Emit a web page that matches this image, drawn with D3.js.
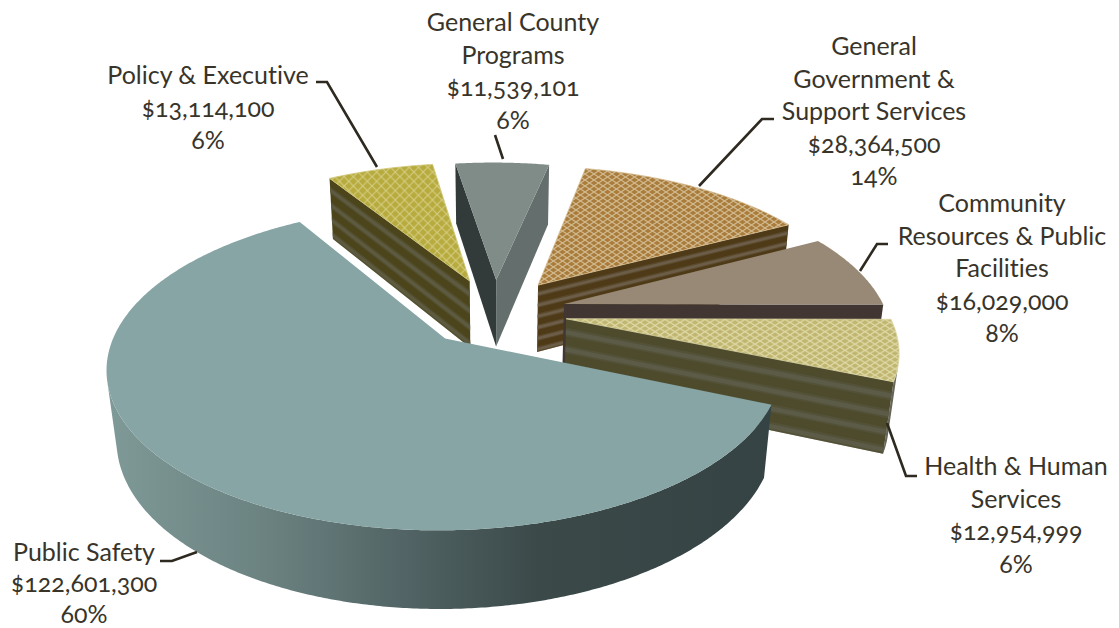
<!DOCTYPE html>
<html>
<head>
<meta charset="utf-8">
<script src="https://cdn.jsdelivr.net/npm/d3@7"></script>
<style>
  html, body { margin: 0; padding: 0; background: #fff; }
  svg { display: block; }
  text { font-family: Lato, "Open Sans", sans-serif; font-size: 25px; fill: #38342a;
         font-feature-settings: "onum" 1, "liga" 0; font-variant-numeric: oldstyle-nums; font-variant-ligatures: none; }
</style>
</head>
<body>
<svg id="chart" width="1119" height="628"></svg>
<script>
// Budget categories, clockwise from the large public safety slice.
const categories = [
  ["Public Safety"],
  ["Policy & Executive"],
  ["General County", "Programs"],
  ["General", "Government &", "Support Services"],
  ["Community", "Resources & Public", "Facilities"],
  ["Health & Human", "Services"]
];
const amounts = [122601300, 13114100, 11539101, 28364500, 16029000, 12954999];

// Where the pie begins, in degrees clockwise from twelve o'clock.
const firstSliceAngle = 113.0;

// Perspective camera for the extruded disc.
const cam = { cx: 494.5, cy: 312, A: 322, B: 148, H: 70, k: 0.174, m: 0.025, shear: 0.01 };

// How far each slice is pulled out of the pie, as a share of the radius.
const explosion = [0.23, 0.23, 0.225, 0.235, 0.225, 0.225];

// Surface styling per slice.
const looks = [
  { top: "#87a5a5", wallStart: "#323a3a", wallEnd: "#323a3a", rim: "url(#rimShade)" },
  { top: "url(#latOlive)", edge: "#cfc779", wallStart: "#4c441b", wallEnd: "#4c441b", light: "#5d5a42", bands: 4, rim: "#4c441b" },
  { top: "#7f8c88", wallStart: "#323a3a", wallEnd: "#646f6d", rim: "#646f6d" },
  { top: "url(#latBrown)", edge: "#d6bd92", wallStart: "#4f3a17", wallEnd: "#4f3a17", light: "#6b5d47", bands: 6, rim: "#4f3a17" },
  { top: "#978975", wallStart: "#413631", wallEnd: "#413631", rim: "#413631" },
  { top: "url(#latKhaki)", edge: "#dcd7a6", wallStart: "#4d4b2c", wallEnd: "#4d4b2c", light: "#5c5b47", bands: 4, rim: "#66655a" }
];

// Label blocks: centre x, first baseline, row spacing and the leader line to the slice.
const labelBlocks = [
  { x: 84,   y: 561, step: 31,   leader: [[160, 561], [172, 561], [197, 552]] },
  { x: 208,  y: 84,  step: 32.5, leader: [[316, 82], [327, 82], [377, 167]] },
  { x: 513,  y: 31,  step: 32.5, leader: [[495, 135], [503, 159]] },
  { x: 874,  y: 55,  step: 32.5, leader: [[774, 119], [762, 119], [699, 186]] },
  { x: 1002, y: 212, step: 32.5, leader: [[888, 244], [877, 244], [860, 271]] },
  { x: 1016, y: 475, step: 32.5, leader: [[887, 423], [906, 476], [917, 476]] }
];

const svg = d3.select("#chart");
const defs = svg.append("defs");

// Lattice fills used on the textured slice tops.
function lattice(id, w, h, base, line) {
  const p = defs.append("pattern").attr("id", id).attr("patternUnits", "userSpaceOnUse")
    .attr("width", w).attr("height", h);
  p.append("rect").attr("width", w).attr("height", h).attr("fill", base);
  p.append("path").attr("d", `M0,0L${w},${h}M0,${h}L${w},0`)
    .attr("stroke", line).attr("stroke-width", 1.15).attr("fill", "none");
}
lattice("latOlive", 9.3, 9.3, "#b8ab3e", "#d3cc82");
lattice("latBrown", 9, 6, "#a97c3b", "#d2b98f");
lattice("latKhaki", 10, 6.2, "#c1b670", "#e0dbaa");

// Horizontal shading along the public safety drum.
const shade = defs.append("linearGradient").attr("id", "rimShade")
  .attr("gradientUnits", "userSpaceOnUse").attr("x1", 105).attr("x2", 770).attr("y1", 0).attr("y2", 0);
[[0, "#7f9a98"], [0.25, "#6a8180"], [0.45, "#526465"], [0.65, "#3b4949"], [1, "#354344"]]
  .forEach(([o, c]) => shade.append("stop").attr("offset", o).attr("stop-color", c));

const pie = d3.pie().sort(null)
  .startAngle(firstSliceAngle * Math.PI / 180)
  .endAngle(firstSliceAngle * Math.PI / 180 + 2 * Math.PI);
const arcs = pie(amounts);
const total = d3.sum(amounts);

const line = d3.line();

function project(X, Y, z) {
  const w = 1 + cam.k * Y + cam.m * z;
  return [cam.cx + cam.A * (X - cam.shear * Y) / w, cam.cy + (-cam.B * Y + cam.H * z) / w];
}

// d3.polygonArea is positive when the wall looks towards the viewer here.
function facesViewer(a, b, c, d) {
  return d3.polygonArea([a, b, c, d]) > 0;
}

function drawSlice(d, i) {
  const look = looks[i];
  const mid = (d.startAngle + d.endAngle) / 2;
  const ox = explosion[i] * Math.sin(mid), oy = explosion[i] * Math.cos(mid);
  const at = (r, ang, z) => project(ox + r * Math.sin(ang), oy + r * Math.cos(ang), z);
  const g = svg.append("g");

  // Rim samples, one per half degree.
  const steps = d3.range(0, Math.ceil((d.endAngle - d.startAngle) * 360 / Math.PI) + 1)
    .map((s, _, all) => d.startAngle + (d.endAngle - d.startAngle) * s / (all.length - 1));

  // Flat wall along a cut edge; textured slices get soft-edged bands.
  const wall = (from, to, fill) => {
    const p = (q, z) => q === "c" ? project(ox, oy, z) : at(1, q, z);
    if (!facesViewer(p(from, 0), p(to, 0), p(to, 1), p(from, 1))) return;
    const quad = (z0, z1) => [p(from, z0), p(to, z0), p(to, z1), p(from, z1)];
    g.append("path").attr("d", line(quad(0, 1)) + "Z").attr("fill", fill);
    if (look.bands) {
      d3.range(look.bands).forEach(n => {
        g.append("path").attr("d", line(quad((n + 0.52) / look.bands, (n + 1) / look.bands)) + "Z")
          .attr("fill", look.light).attr("opacity", 0.45);
        g.append("path").attr("d", line(quad((n + 0.64) / look.bands, (n + 0.9) / look.bands)) + "Z")
          .attr("fill", look.light);
      });
    }
  };

  // Outer drum: join neighbouring visible facets into single shapes.
  let run = [];
  const flush = () => {
    if (run.length > 1) {
      const shape = run.map(a => at(1, a, 0)).concat(run.slice().reverse().map(a => at(1, a, 1)));
      g.append("path").attr("d", line(shape) + "Z").attr("fill", look.rim);
    }
    run = [];
  };
  steps.slice(1).forEach((b, n) => {
    const a = steps[n];
    if (facesViewer(at(1, a, 0), at(1, b, 0), at(1, b, 1), at(1, a, 1))) {
      if (!run.length) run.push(a);
      run.push(b);
    } else flush();
  });
  flush();

  wall("c", d.startAngle, look.wallStart);
  wall(d.endAngle, "c", look.wallEnd);

  const outline = [project(ox, oy, 0)].concat(steps.map(a => at(1, a, 0)));
  g.append("path").attr("d", line(outline) + "Z").attr("fill", look.top)
    .attr("stroke", look.edge || "none").attr("stroke-width", look.edge ? 0.8 : 0);
}

// Back slices first; the large slice sits on top of its neighbours.
[1, 2, 3, 4, 5, 0].forEach(i => drawSlice(arcs[i], i));

// Leader lines and text.
const money = d3.format("$,");
const pct = d3.format(".0%");
labelBlocks.forEach((b, i) => {
  svg.append("path").attr("d", line(b.leader)).attr("fill", "none")
    .attr("stroke", "#2e2a20").attr("stroke-width", 2.6);
  const rows = categories[i].concat([money(amounts[i]), pct(amounts[i] / total)]);
  rows.forEach((t, r) => {
    svg.append("text").attr("x", b.x).attr("y", b.y + r * b.step)
      .attr("text-anchor", "middle").text(t);
  });
});
</script>
</body>
</html>
